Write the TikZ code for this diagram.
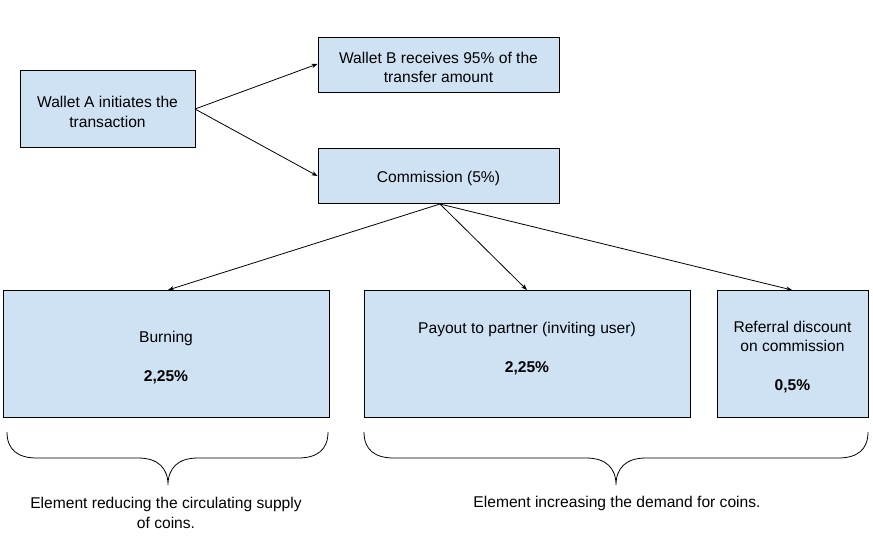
\documentclass[tikz,border=0pt]{standalone}
\usepackage{fontspec}
\setmainfont{Liberation Sans}
\usetikzlibrary{arrows.meta}
\definecolor{boxblue}{HTML}{CFE2F3}
\newcommand{\toppad}{\rule{0pt}{17.5pt}}
\begin{document}
\begin{tikzpicture}[x=1pt,y=-1pt,
  font=\fontsize{15.6}{19.5}\selectfont,
  box/.style={draw=black, line width=1pt, fill=boxblue, inner sep=0pt, align=center},
  conn/.style={-{Stealth[length=6pt,width=4.5pt]}, line width=0.8pt},
  bracepath/.style={line width=0.8pt},
  caption/.style={align=center, inner sep=0pt}]
\useasboundingbox (0,0) rectangle (873,546);

% top boxes
\node[box, minimum width=175, minimum height=77] (wa) at (107.5,109) {\toppad Wallet A initiates the\\transaction};
\node[box, minimum width=241, minimum height=55] (wb) at (438.5,64.5) {\toppad Wallet B receives 95\% of the\\transfer amount};
\node[box, minimum width=241, minimum height=55] (com) at (438.5,175.5) {\toppad Commission (5\%)};

% bottom boxes
\node[box, minimum width=326, minimum height=127] (burn) at (166,354) {\toppad Burning\\[19.5pt]\textbf{2,25\%}};
\node[box, minimum width=326, minimum height=127] (pay) at (527,354) {\toppad Payout to partner (inviting user)\\[19.5pt]\textbf{2,25\%}\\\mbox{}};
\node[box, minimum width=151, minimum height=127] (ref) at (792.5,354) {\toppad Referral discount\\on commission\\[19.5pt]\textbf{0,5\%}};

% connector anchors
\coordinate (waout) at (195,109);
\coordinate (comout) at (440,204);

\draw[conn] (waout) -- (wb.west |- 0,64);
\draw[conn] (waout) -- (com.west |- 0,176);
\draw[conn] (comout) -- (burn.north -| 168,0);
\draw[conn] (comout) -- (pay.north -| 527,0);
\draw[conn] (comout) -- (ref.north -| 792,0);

% braces
\draw[bracepath] (7,432) .. controls (7,450) and (18,458) .. (37,458)
  -- (138,458) .. controls (158,458) and (168,468) .. (168,485)
  .. controls (168,468) and (178,458) .. (198,458)
  -- (298,458) .. controls (317,458) and (328,450) .. (328,432);
\draw[bracepath] (364,432) .. controls (364,450) and (375,458) .. (394,458)
  -- (586,458) .. controls (606,458) and (616,468) .. (616,485)
  .. controls (616,468) and (626,458) .. (646,458)
  -- (838,458) .. controls (857,458) and (868,450) .. (868,432);

% captions
\node[caption] (capl) at (166,513) {Element reducing the circulating supply\\of coins.};
\node[caption] (capr) at (617,503.5) {Element increasing the demand for coins.};
\end{tikzpicture}
\end{document}
